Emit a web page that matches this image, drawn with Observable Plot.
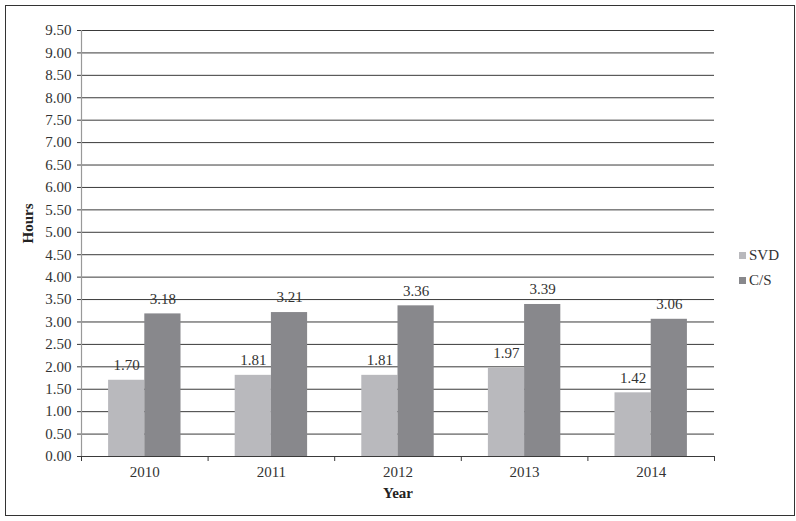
<!DOCTYPE html>
<html>
<head>
<meta charset="utf-8">
<script src="https://cdn.jsdelivr.net/npm/d3@7"></script>
<script src="https://cdn.jsdelivr.net/npm/@observablehq/plot@0.6"></script>
<style>
  html, body { margin: 0; padding: 0; background: #fff; }
  #wrap { position: relative; width: 796px; height: 521px; overflow: hidden; font-family: "Liberation Serif", "Times New Roman", serif; }
  #border { position: absolute; left: 5px; top: 5px; width: 790px; height: 511px; box-sizing: border-box; border: 1.5px solid #333; pointer-events: none; }
  #legend { position: absolute; left: 739px; top: 243px; font-size: 15px; color: #333; }
  .item { display: flex; align-items: center; height: 25px; }
  .sw { width: 7px; height: 7px; margin-right: 3px; }
</style>
</head>
<body>
<div id="wrap">
  <div id="chart"></div>
  <div id="legend"></div>
  <div id="border"></div>
</div>
<script>
const years = [2010, 2011, 2012, 2013, 2014];
const seriesNames = ["SVD", "C/S"];
const svdValues = [1.70, 1.81, 1.81, 1.97, 1.42];
const csValues = [3.18, 3.21, 3.36, 3.39, 3.06];
const seriesColors = ["#b9b9bd", "#88888c"];
const yTickValues = [0, 0.5, 1, 1.5, 2, 2.5, 3, 3.5, 4, 4.5, 5, 5.5, 6, 6.5, 7, 7.5, 8, 8.5, 9, 9.5];
const yearBoundaries = [2009.5, 2010.5, 2011.5, 2012.5, 2013.5, 2014.5];

const barW = 0.286; // bar width in year units
const rows = [];
years.forEach((yr, i) => {
  rows.push({year: yr, series: "SVD", value: svdValues[i], x1: yr - barW, x2: yr});
  rows.push({year: yr, series: "C/S", value: csValues[i], x1: yr, x2: yr + barW});
});

const chart = Plot.plot({
  width: 796,
  height: 521,
  marginLeft: 81,
  marginRight: 82,
  marginTop: 30,
  marginBottom: 65,
  style: {fontFamily: "'Liberation Serif', 'Times New Roman', serif", fontSize: "15px", color: "#333", background: "transparent"},
  x: {domain: [2009.5, 2014.5], axis: null, label: null},
  y: {domain: [0, 9.5], axis: null, label: null},
  color: {domain: seriesNames, range: seriesColors},
  marks: [
    Plot.gridY(yTickValues.filter(d => d > 0), {stroke: "#3a3a3a", strokeOpacity: 1, strokeWidth: 1}),
    Plot.axisY({ticks: yTickValues, label: null, tickSize: 4, tickPadding: 6, tickFormat: d => d.toFixed(2), stroke: "#3a3a3a", fill: "#333", fontSize: 15}),
    Plot.rectY(rows, {x1: "x1", x2: "x2", y: "value", fill: "series"}),
    Plot.ruleX([2009.5], {stroke: "#999", strokeWidth: 1.2}),
    Plot.ruleY([0], {stroke: "#3a3a3a", strokeWidth: 1}),
    Plot.axisX({ticks: yearBoundaries, label: null, tickSize: 5, tickFormat: () => "", stroke: "#3a3a3a"}),
    Plot.axisX({ticks: years, label: null, tickSize: 0, tickPadding: 10, tickFormat: d => String(d), fill: "#333", fontSize: 15}),
    Plot.text(rows, {x: d => (d.x1 + d.x2) / 2, y: "value", text: d => d.value.toFixed(2), dy: -15, fill: "#333", fontSize: 15}),
    Plot.text(["Year"], {frameAnchor: "bottom", dy: 41, fontWeight: "bold", fill: "#222", fontSize: 15}),
    Plot.text(["Hours"], {frameAnchor: "left", dx: -53, rotate: -90, fontWeight: "bold", fill: "#222", fontSize: 15})
  ]
});
document.getElementById("chart").appendChild(chart);

const legend = document.getElementById("legend");
seriesNames.forEach((name, i) => {
  const item = document.createElement("div");
  item.className = "item";
  const sw = document.createElement("div");
  sw.className = "sw";
  sw.style.background = seriesColors[i];
  const label = document.createElement("span");
  label.textContent = name;
  item.appendChild(sw);
  item.appendChild(label);
  legend.appendChild(item);
});
</script>
</body>
</html>
